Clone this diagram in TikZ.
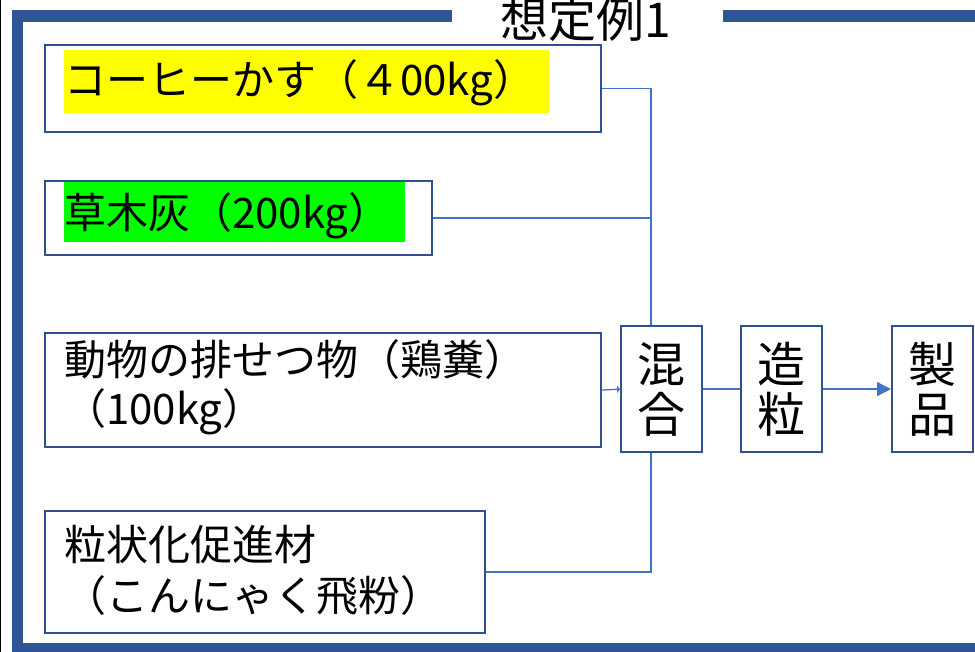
\documentclass[tikz,border=0pt]{standalone}
\usepackage{fontspec}
\newfontfamily\jp{Noto Sans CJK JP}
\usetikzlibrary{arrows.meta}
\definecolor{frameblue}{HTML}{2F5597}
\definecolor{boxblue}{HTML}{2F528F}
\definecolor{lineblue}{HTML}{4472C4}
\definecolor{hlyellow}{HTML}{FFFF00}
\definecolor{hlgreen}{HTML}{00FF00}
\begin{document}
\begin{tikzpicture}[x=1pt,y=-1pt,
 box/.style={draw=boxblue, line width=2.2pt, anchor=north west, inner sep=0pt},
 lbl/.style={anchor=west, inner sep=0pt, font=\jp\fontsize{42}{52}\selectfont, text=black},
 vlbl/.style={inner sep=0pt, align=center, font=\jp\fontsize{48}{50}\selectfont, text=black},
 conn/.style={draw=lineblue, line width=1.3pt},
 framebar/.style={draw=frameblue, line width=11.5pt},
]
\useasboundingbox (0,0) rectangle (975,652);
% frame
\draw[framebar] (452,16) -- (17.5,16) -- (17.5,649) -- (980,649);
\draw[framebar] (723,16) -- (980,16);
\draw[black, line width=1pt] (0.5,0) -- (0.5,652);
\node[inner sep=0pt, font=\jp\fontsize{48}{48}\selectfont] (title) at (586,19) {想定例1};
% highlights
\fill[hlyellow] (64,50) rectangle (549,113);
\fill[hlgreen] (64,180) rectangle (405,242);
% input boxes
\node[box, minimum width=556pt, minimum height=87pt] (b1) at (44,44) {};
\node[box, minimum width=387pt, minimum height=74pt] (b2) at (44,180) {};
\node[box, minimum width=556pt, minimum height=114pt] (b3) at (44,332) {};
\node[box, minimum width=440pt, minimum height=122pt] (b4) at (44,510) {};
\node[lbl] (t1) at (64,83) {コーヒーかす（４00kg）};
\node[lbl] (t2) at (64,216) {草木灰（200kg）};
\node[lbl] (t3a) at (64,360) {動物の排せつ物（鶏糞）};
\node[lbl] (t3b) at (64,412) {（100kg）};
\node[lbl] (t4a) at (64,545) {粒状化促進材};
\node[lbl] (t4b) at (64,596) {（こんにゃく飛粉）};
% process boxes
\node[box, minimum width=81pt, minimum height=126pt] (mix) at (620,325) {};
\node[box, minimum width=81pt, minimum height=126pt] (gran) at (740,325) {};
\node[box, minimum width=81pt, minimum height=126pt] (prod) at (891,325) {};
\node[vlbl] (mixt) at (mix.center) {混\\合};
\node[vlbl] (grant) at (gran.center) {造\\粒};
\node[vlbl] (prodt) at (prod.center) {製\\品};
% connectors
\coordinate (j) at (651,0);
\draw[conn] (b1.east) -| (j |- mix.north);
\draw[conn] (b2.east) -- (b2.east -| j);
\draw[conn] (b4.east) -| (j |- mix.south);
\draw[conn, -{Triangle[length=3pt,width=7pt]}] (b3.east) -- (mix.west);
\draw[conn] (mix.east) -- (gran.west);
\draw[conn, -{Triangle[length=14pt,width=14pt]}] (gran.east) -- (prod.west);
\end{tikzpicture}
\end{document}
